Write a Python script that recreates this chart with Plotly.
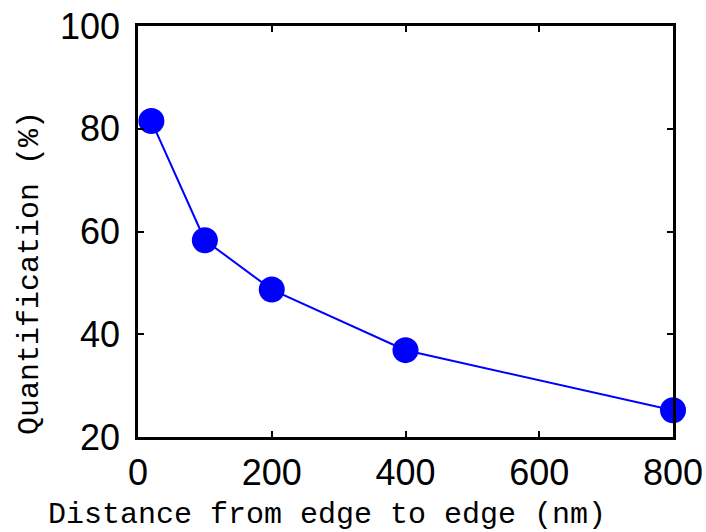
import plotly.graph_objects as go

# Edge-to-edge distance (nm) and measured quantification (%)
distance_nm = [20, 100, 200, 400, 800]
quantification_pct = [81.5, 58.3, 48.7, 36.9, 25.2]

x_ticks = [0, 200, 400, 600, 800]
y_ticks = [20, 40, 60, 80, 100]

fig = go.Figure()
fig.add_trace(go.Scatter(
    x=distance_nm,
    y=quantification_pct,
    mode="lines+markers",
    line=dict(color="#0000ff", width=2),
    marker=dict(color="#0000ff", size=26),
    cliponaxis=False,
    showlegend=False,
))

axis_common = dict(
    showline=True,
    linecolor="black",
    linewidth=2.5,
    mirror="ticks",
    ticks="inside",
    ticklen=6,
    tickwidth=2,
    tickcolor="black",
    showgrid=False,
    zeroline=False,
    automargin=False,
    tickfont=dict(family="Liberation Sans", size=36, color="black"),
)

fig.update_xaxes(range=[0, 800], tickvals=x_ticks, ticklabelstandoff=2, **axis_common)
fig.update_yaxes(range=[20, 100], tickvals=y_ticks, ticklabelstandoff=8, **axis_common)

title_font = dict(family="Liberation Mono", size=30, color="black")
fig.add_annotation(
    text="Distance from edge to edge (nm)",
    xref="paper", yref="paper", x=0.353, y=-0.19,
    xanchor="center", yanchor="middle", showarrow=False, font=title_font,
)
fig.add_annotation(
    text="Quantification (%)",
    xref="paper", yref="paper", x=-0.202, y=0.399, textangle=-90,
    xanchor="center", yanchor="middle", showarrow=False, font=title_font,
)

fig.update_layout(
    width=706,
    height=532,
    margin=dict(l=138, r=33, t=26, b=95),
    plot_bgcolor="white",
    paper_bgcolor="white",
)

fig.write_html("out.html")
